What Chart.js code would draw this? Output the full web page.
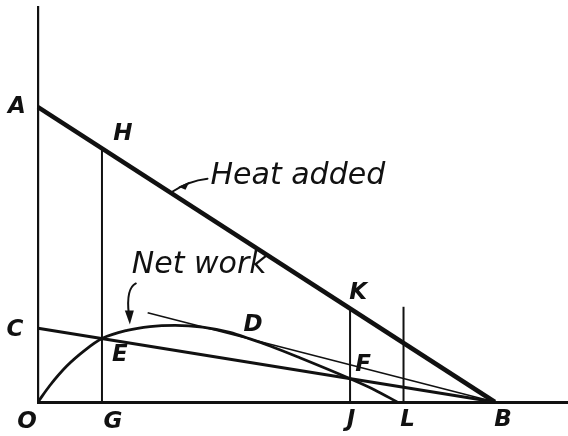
<!DOCTYPE html>
<html>
<head>
<meta charset="utf-8">
<script src="https://cdn.jsdelivr.net/npm/chart.js@4"></script>
<style>
  html, body { margin: 0; padding: 0; background: #fff; }
  #wrap { width: 568px; height: 436px; position: relative; }
</style>
</head>
<body>
<div id="wrap"><canvas id="diagram"></canvas></div>
<script>
// Diagram values (arbitrary units: OB = 100 along x, OA = 100 along y)
const heatX = [0, 100];          // A -> B
const heatY = [100, 0];
const lineCX = [0, 100];         // C -> B
const lineCY = [25, 0];
const tangentX = [24, 100];      // thin line touching the curve at D
const tangentY = [30.3, 0];
const netWorkX = [0, 2.6, 6.3, 10.3, 14, 19.5, 24.5, 30, 36, 42, 46.4, 50.8, 57.3, 68.3, 73.7, 78.6];
const netWorkY = [0, 5.6, 12.2, 17.6, 21.5, 24.3, 25.6, 26.0, 25.4, 23.6, 21.4, 19.0, 15.0, 7.9, 4.1, 0];
const ordinateX = [14, 68.3, 80];       // G, J, L
const ordinateTop = [86, 31.7, 32.3];   // H, K, above L

// named points of the figure
const pointNames = ['A', 'H', 'C', 'E', 'D', 'F', 'K', 'O', 'G', 'J', 'L', 'B'];
const pointX = [0, 14, 0, 14, 46.4, 68.3, 68.3, 0, 14, 68.3, 80, 100];
const pointY = [100, 86, 25, 21.5, 21.1, 7.9, 31.7, 0, 0, 0, 0, 0];

const xMax = 116, yMax = 134;

function pts(xs, ys) {
  return xs.map((x, i) => ({ x: x, y: ys[i] }));
}

const ink = '#111';
const datasets = [
  { data: pts(heatX, heatY), borderWidth: 4.5 },
  { data: pts(lineCX, lineCY), borderWidth: 3 },
  { data: pts(tangentX, tangentY), borderWidth: 1.6 },
  { data: pts(netWorkX, netWorkY), borderWidth: 2.8, cubicInterpolationMode: 'monotone' }
];
ordinateX.forEach((x, i) => {
  datasets.push({ data: [{ x: x, y: 0 }, { x: x, y: ordinateTop[i] }], borderWidth: 2 });
});
datasets.forEach(d => {
  d.borderColor = ink;
  d.showLine = true;
  d.pointRadius = 0;
  d.fill = false;
  d.clip = false;
});

// letters and notes drawn on top
const labelPlugin = {
  id: 'labels',
  afterDatasetsDraw(chart) {
    const ctx = chart.ctx;
    const xs = chart.scales.x, ys = chart.scales.y;
    const off = {
      A: [-21, 0], H: [21, -14], C: [-23, 2], E: [18, 16], D: [3, -15], F: [13, -14],
      K: [8, -16], O: [-11, 20], G: [11, 20], J: [1, 18], L: [4, 18], B: [8, 18]
    };
    ctx.save();
    ctx.fillStyle = ink;
    ctx.textAlign = 'center';
    ctx.textBaseline = 'middle';
    ctx.font = 'italic bold 23px "DejaVu Sans"';
    pointNames.forEach((n, i) => {
      const px = xs.getPixelForValue(pointX[i]) + off[n][0];
      const py = ys.getPixelForValue(pointY[i]) + off[n][1];
      ctx.fillText(n, px, py);
    });

    ctx.strokeStyle = ink;
    ctx.lineWidth = 2;
    ctx.lineCap = 'round';

    // "Heat added" pointer, tip on A-B
    const hx = xs.getPixelForValue(29);
    const hy = ys.getPixelForValue(100 - 29);
    ctx.beginPath();
    ctx.moveTo(hx + 37, hy - 14);
    ctx.quadraticCurveTo(hx + 18, hy - 12, hx, hy);
    ctx.stroke();
    ctx.beginPath();
    ctx.moveTo(hx + 8, hy - 6);
    ctx.lineTo(hx + 19, hy - 11);
    ctx.lineTo(hx + 15, hy - 3);
    ctx.closePath();
    ctx.fill();

    // "Net work" pointer, tip just above the curve
    const nx = xs.getPixelForValue(20.1);
    const ny = ys.getPixelForValue(25.3) - 3;
    ctx.beginPath();
    ctx.moveTo(nx + 6, ny - 41);
    ctx.quadraticCurveTo(nx - 4, ny - 36, nx - 1, ny - 10);
    ctx.stroke();
    ctx.beginPath();
    ctx.moveTo(nx - 5, ny - 14);
    ctx.lineTo(nx + 4, ny - 14);
    ctx.lineTo(nx, ny);
    ctx.closePath();
    ctx.fill();

    ctx.textAlign = 'left';
    ctx.font = 'italic 30px "DejaVu Sans"';
    ctx.fillText('Heat added', hx + 40, hy - 17);
    ctx.fillText('Net work', nx + 2, ny - 59);
    ctx.restore();
  }
};

new Chart(document.getElementById('diagram'), {
  type: 'scatter',
  data: { datasets: datasets },
  options: {
    responsive: true,
    maintainAspectRatio: false,
    animation: false,
    layout: { padding: { left: 38, right: 0, top: 7, bottom: 34 } },
    plugins: { legend: { display: false }, tooltip: { enabled: false } },
    scales: {
      x: {
        type: 'linear', min: 0, max: xMax,
        grid: { display: false, drawTicks: false },
        ticks: { display: false },
        border: { display: true, color: ink, width: 3 }
      },
      y: {
        type: 'linear', min: 0, max: yMax,
        grid: { display: false, drawTicks: false },
        ticks: { display: false },
        border: { display: true, color: ink, width: 2.2 }
      }
    }
  },
  plugins: [labelPlugin]
});
</script>
</body>
</html>
